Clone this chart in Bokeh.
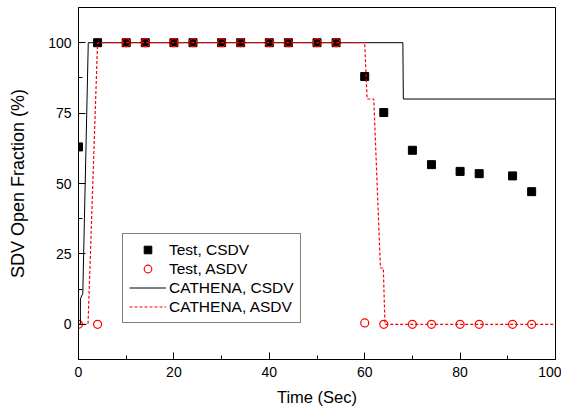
from bokeh.plotting import figure
from bokeh.models import Range1d, SingleIntervalTicker, Legend, LegendItem
from bokeh.embed import file_html
from bokeh.resources import INLINE

# Test data (symbols)
test_csdv_t = [0, 4, 10, 14, 20, 24, 30, 34, 40, 44, 50, 54, 60, 64, 70, 74, 80, 84, 91, 95]
test_csdv_v = [63, 100, 100, 100, 100, 100, 100, 100, 100, 100, 100, 100, 88, 75.2, 61.8, 56.7, 54.3, 53.5, 52.7, 47.1]
test_asdv_t = [0, 4, 10, 14, 20, 24, 30, 34, 40, 44, 50, 54, 60, 64, 70, 74, 80, 84, 91, 95]
test_asdv_v = [0, 0, 100, 100, 100, 100, 100, 100, 100, 100, 100, 100, 0.5, 0, 0, 0, 0, 0, 0, 0]

# CATHENA simulation (lines)
cath_csdv_t = [0, 0.4, 0.4, 0.9, 2.05, 68.0, 68.1, 100]
cath_csdv_v = [0, 0, 9, 11, 100, 100, 80, 80]
cath_asdv_t = [0, 2.0, 4.0, 60.0, 60.5, 61.9, 63.3, 63.9, 64.25, 100]
cath_asdv_v = [0, 0, 100, 100, 80, 80, 20, 20, 0, 0]

FONT = "Liberation Sans"

p = figure(frame_width=477, frame_height=352,
           x_range=Range1d(0, 100), y_range=Range1d(-12.5, 112.5),
           output_backend="svg", toolbar_location=None,
           min_border_left=78, min_border_right=6, min_border_top=7, min_border_bottom=50)

p.xgrid.visible = False
p.ygrid.visible = False
p.outline_line_color = "black"
p.outline_line_width = 1
p.outline_line_alpha = 1

p.xaxis.ticker = SingleIntervalTicker(interval=20, num_minor_ticks=2)
p.yaxis.ticker = SingleIntervalTicker(interval=25, num_minor_ticks=2)

for ax in (p.xaxis[0], p.yaxis[0]):
    ax.axis_line_color = "black"
    ax.axis_line_width = 1
    ax.major_tick_in = 7
    ax.major_tick_out = 0
    ax.minor_tick_in = 4
    ax.minor_tick_out = 0
    ax.major_tick_line_color = "black"
    ax.minor_tick_line_color = "black"
    ax.major_label_text_font = FONT
    ax.major_label_text_font_size = "14px"
    ax.major_label_text_color = "black"
    ax.axis_label_text_font = FONT
    ax.axis_label_text_font_style = "normal"
    ax.axis_label_text_color = "black"
    ax.major_label_standoff = 7

p.xaxis.axis_label = "Time (Sec)"
p.yaxis.axis_label = "SDV Open Fraction (%)"
p.xaxis.axis_label_text_font_size = "16.5px"
p.yaxis.axis_label_text_font_size = "18px"
p.xaxis.axis_label_standoff = 8
p.yaxis.axis_label_standoff = 17

r1 = p.scatter(test_csdv_t, test_csdv_v, marker="square", size=8,
               fill_color="black", line_color="black")
r2 = p.scatter(test_asdv_t, test_asdv_v, marker="circle", size=8,
               fill_color=None, line_color="red", line_width=1.2)
r3 = p.line(cath_csdv_t, cath_csdv_v, line_color="black", line_width=1)
r4 = p.line(cath_asdv_t, cath_asdv_v, line_color="red", line_width=1.2, line_dash="3 2")

legend = Legend(items=[
    LegendItem(label="Test, CSDV", renderers=[r1]),
    LegendItem(label="Test, ASDV", renderers=[r2]),
    LegendItem(label="CATHENA, CSDV", renderers=[r3]),
    LegendItem(label="CATHENA, ASDV", renderers=[r4]),
], location=(44, 36))
legend.label_text_font = FONT
legend.label_text_font_size = "15.5px"
legend.label_text_color = "black"
legend.border_line_color = "black"
legend.border_line_width = 1
legend.padding = 6
legend.spacing = 0
legend.margin = 0
legend.label_height = 19
legend.glyph_height = 19
legend.glyph_width = 37
legend.label_standoff = 3
legend.background_fill_alpha = 1
p.add_layout(legend)

open("out.html", "w").write(file_html(p, INLINE))
